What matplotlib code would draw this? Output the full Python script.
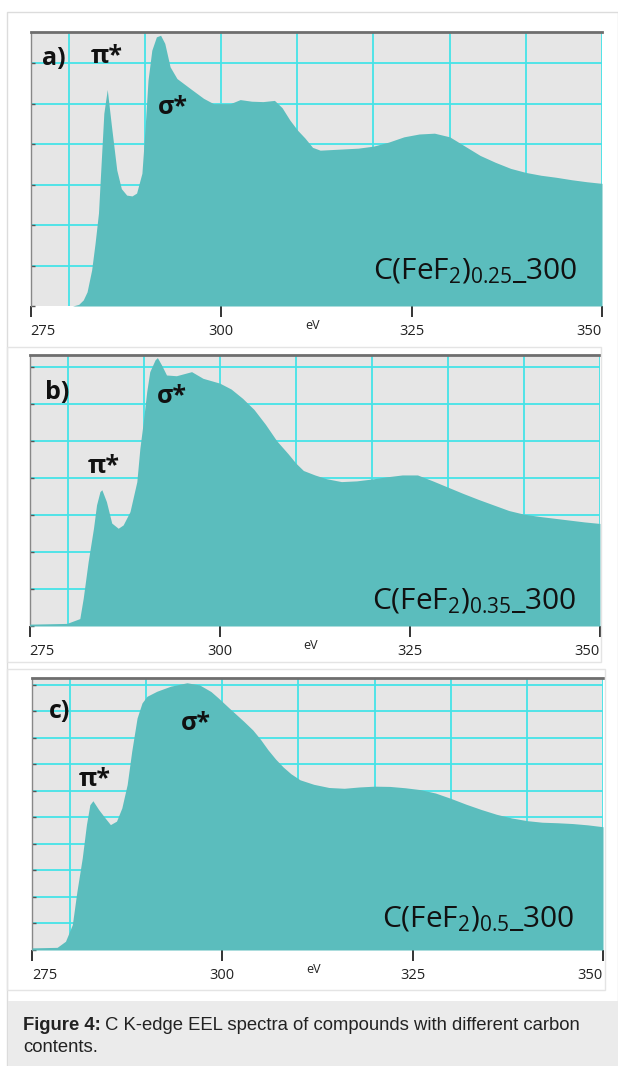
import matplotlib
matplotlib.use("Agg")
import matplotlib.pyplot as plt
from matplotlib.patches import Rectangle

W, H = 618, 1066

# C K-edge EEL spectra, intensity in grid units
ev_a = [275, 280.5, 281.3, 281.9, 282.4, 283.0, 283.45, 283.9, 284.2, 284.6, 285.05, 285.6,
        286.3, 286.9, 287.6, 288.3, 288.9, 289.6, 290.0, 290.4, 290.9, 291.5, 292.05, 292.6,
        293.3, 294.2, 295.9, 297.7, 299.0, 301.2, 302.5, 304.0, 305.5, 307.0, 308.0, 309.0,
        310.0, 311.0, 312.0, 313.0, 315.0, 318.0, 320.0, 322.0, 324.0, 326.0, 328.0, 330.0,
        332.0, 334.0, 336.0, 338.0, 340.0, 342.0, 344.0, 346.0, 348.0, 350.0]
int_a = [0, 0, 0.04, 0.15, 0.35, 0.89, 1.55, 2.3, 3.36, 4.76, 5.35, 4.45,
         3.36, 2.9, 2.74, 2.72, 2.79, 3.28, 4.35, 5.58, 6.32, 6.65, 6.69, 6.49,
         5.91, 5.62, 5.38, 5.13, 5.0, 5.0, 5.1, 5.06, 5.05, 5.08, 4.9, 4.6,
         4.35, 4.15, 3.92, 3.85, 3.87, 3.9, 3.95, 4.05, 4.18, 4.25, 4.27, 4.18,
         3.95, 3.72, 3.55, 3.4, 3.3, 3.23, 3.18, 3.12, 3.07, 3.03]

ev_b = [275, 279.9, 281.6, 282.05, 282.7, 283.4, 283.8, 284.25, 284.5, 285.1, 285.8, 286.65,
        287.3, 288.2, 289.1, 289.5, 289.95, 290.4, 290.8, 291.5, 291.8, 292.35, 293.0, 294.3,
        296.3, 297.8, 300.0, 301.5, 303.0, 304.5, 306.0, 307.5, 309.0, 310.0, 311.0, 312.5,
        314.0, 316.0, 318.0, 320.0, 322.0, 324.0, 326.0, 328.0, 330.0, 332.0, 334.0, 336.0,
        338.0, 340.0, 342.0, 344.0, 346.0, 348.0, 350.0]
int_b = [0.05, 0.07, 0.2, 0.75, 1.74, 2.64, 3.27, 3.63, 3.68, 3.36, 2.78, 2.64,
         2.73, 3.09, 3.9, 4.8, 5.52, 6.33, 6.87, 7.19, 7.25, 7.05, 6.78, 6.76,
         6.87, 6.69, 6.56, 6.4, 6.15, 5.85, 5.45, 5.0, 4.65, 4.4, 4.2, 4.08,
         3.98, 3.9, 3.92, 3.97, 4.03, 4.08, 4.08, 3.92, 3.75, 3.58, 3.42, 3.27,
         3.12, 3.02, 2.96, 2.91, 2.86, 2.81, 2.77]

ev_c = [275, 278.3, 279.4, 280.3, 280.9, 281.6, 282.15, 282.6, 283.0, 283.75, 284.6, 285.3,
        286.1, 286.8, 287.5, 288.1, 288.8, 289.45, 290.1, 291.4, 293.2, 295.35, 297.0, 298.5,
        299.5, 301.0, 302.8, 304.0, 305.0, 306.0, 307.0, 308.0, 309.0, 310.2, 312.0, 314.0,
        316.0, 318.0, 320.0, 322.0, 324.0, 326.0, 328.0, 330.0, 332.0, 334.0, 336.0, 338.0,
        340.0, 342.0, 344.0, 346.0, 348.0, 350.0]
int_c = [0.08, 0.1, 0.33, 0.96, 2.21, 3.47, 4.73, 5.48, 5.63, 5.3, 4.98, 4.73,
         4.86, 5.36, 6.24, 7.5, 8.75, 9.32, 9.57, 9.76, 9.95, 10.08, 10.0, 9.75,
         9.5, 9.1, 8.63, 8.3, 7.95, 7.55, 7.2, 6.9, 6.65, 6.42, 6.25, 6.13,
         6.1, 6.15, 6.18, 6.17, 6.12, 6.05, 5.92, 5.72, 5.5, 5.3, 5.12, 4.98,
         4.88, 4.82, 4.8, 4.77, 4.72, 4.65]

letters = ["a)", "b)", "c)"]
samples = [r"C(FeF$_2$)$_{0.25}$_300", r"C(FeF$_2$)$_{0.35}$_300", r"C(FeF$_2$)$_{0.5}$_300"]
tick_ev = [275, 300, 325, 350]
tick_labels = ["275", "300", "325", "350"]

plt.rcParams['font.family'] = ['Open Sans', 'DejaVu Sans']
plt.rcParams['mathtext.fontset'] = 'custom'
plt.rcParams['mathtext.rm'] = 'Open Sans'
plt.rcParams['mathtext.it'] = 'Open Sans:italic'
plt.rcParams['mathtext.bf'] = 'Open Sans:bold'

TEAL = "#5bbdbd"
BG = "#e6e6e6"
GRID = "#45e3e8"

fig = plt.figure(figsize=(W / 100, H / 100), dpi=100)


def px_rect(left, top, right, bottom, **kw):
    r = Rectangle((left / W, 1 - bottom / H), (right - left) / W, (bottom - top) / H,
                  transform=fig.transFigure, **kw)
    fig.add_artist(r)
    return r


# frames and caption band
px_rect(7, 12, 617.5, 1066, fill=False, ec="#dcdcdc", lw=1)
px_rect(7, 347, 601, 662, fill=False, ec="#e4e4e4", lw=1)
px_rect(7, 669, 605, 990, fill=False, ec="#e4e4e4", lw=1)
px_rect(7.5, 1001, 618, 1066, fc="#ebebeb", ec="none")

# (left, top, right, bottom) of each plot area in pixels, and y extent
boxes = [(30.7, 32, 602, 306), (29.6, 355, 600, 626), (32.0, 678, 603, 950)]
ymax = [6.77, 7.32, 10.26]
spectra = [(ev_a, int_a), (ev_b, int_b), (ev_c, int_c)]
# text anchors in data coordinates: letter, pi*, sigma*, sample name
letter_xy = [(278.0, 6.12), (278.6, 6.3), (278.6, 8.98)]
pi_xy = [(285.0, 6.17), (284.8, 4.32), (283.2, 6.45)]
sigma_xy = [(293.7, 4.9), (293.7, 6.19), (296.5, 8.53)]
sample_xy = [(333.4, 0.86), (333.4, 0.67), (333.6, 1.15)]

for i in range(3):
    l, t, r, b = boxes[i]
    ax = fig.add_axes([l / W, 1 - b / H, (r - l) / W, (b - t) / H])
    ax.set_facecolor(BG)
    x, y = spectra[i]
    ax.fill_between(x, 0, y, color=TEAL, lw=0, zorder=3)
    ax.set_xlim(275, 350)
    ax.set_ylim(0, ymax[i])

    for gx in range(280, 351, 10):
        ax.axvline(gx, color=GRID, lw=1.3, zorder=1)
    for gy in range(1, int(ymax[i]) + 1):
        ax.axhline(gy, color=GRID, lw=1.3, zorder=1)

    ax.spines['right'].set_visible(False)
    ax.spines['bottom'].set_visible(False)
    ax.spines['top'].set_color("#6e6e6e")
    ax.spines['top'].set_linewidth(2)
    ax.spines['left'].set_color("#888888")
    ax.spines['left'].set_linewidth(1)
    ax.spines['top'].set_zorder(5)

    ax.set_yticks(range(0, int(ymax[i]) + 1))
    ax.set_yticklabels([])
    ax.tick_params(axis='y', direction='in', length=3, width=1, color="#555555")

    ax.set_xticks(tick_ev)
    ax.set_xticklabels(tick_labels)
    ax.tick_params(axis='x', direction='out', length=8, width=1.4, color="#333333",
                   pad=5, labelsize=10.5, labelcolor="#222222")
    tl = ax.get_xticklabels()
    tl[0].set_ha('left')
    tl[-1].set_ha('right')

    ax.annotate("eV", xy=(312, 0), xycoords=('data', 'axes fraction'),
                xytext=(0, -14), textcoords='offset points', ha='center', va='center',
                fontsize=9, color="#222222")

    ax.text(*letter_xy[i], letters[i], fontsize=18, fontweight='bold', ha='center',
            va='center', color="#111111", zorder=6)
    ax.text(*pi_xy[i], "π*", fontsize=18, fontweight='bold', ha='center', va='center',
            color="#111111", zorder=6)
    ax.text(*sigma_xy[i], "σ*", fontsize=18, fontweight='bold', ha='center', va='center',
            color="#111111", zorder=6)
    ax.text(*sample_xy[i], samples[i], fontsize=21.5, ha='center', va='center',
            color="#111111", zorder=6)

# caption
cap_font = ['Liberation Sans', 'DejaVu Sans']
t1 = fig.text(23 / W, 1 - 1025 / H, "Figure 4:", fontsize=13.3, fontweight='bold',
              family=cap_font, va='center', color="#222222")
fig.canvas.draw()
bb = t1.get_window_extent(renderer=fig.canvas.get_renderer())
fig.text((bb.x1 + 4) / W, 1 - 1025 / H, "C K-edge EEL spectra of compounds with different carbon",
         fontsize=13.3, family=cap_font, va='center', color="#222222")
fig.text(23 / W, 1 - 1048 / H, "contents.", fontsize=13.3, family=cap_font, va='center',
         color="#222222")

fig.savefig("out.png", dpi=100)
